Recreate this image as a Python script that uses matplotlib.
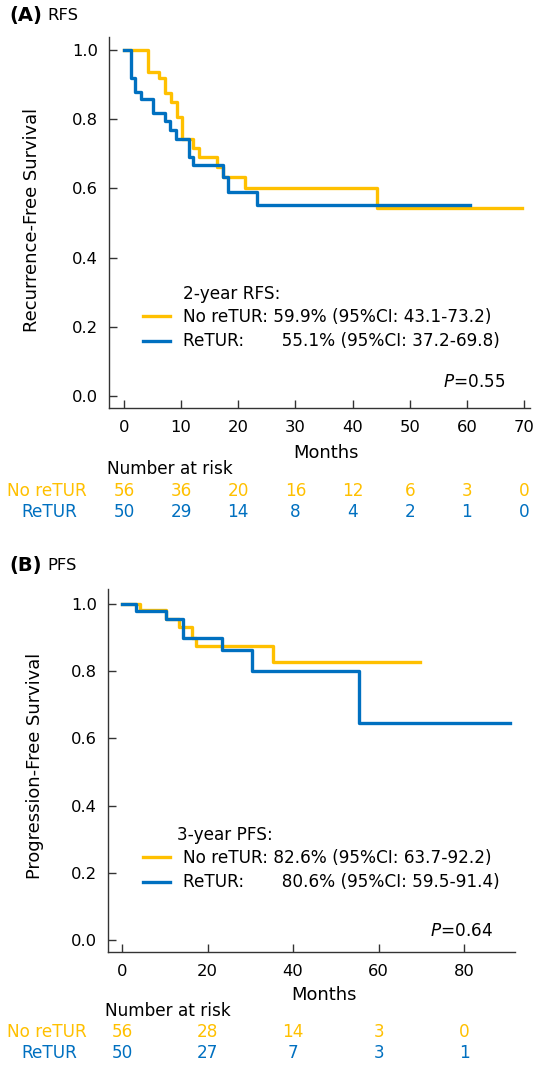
import matplotlib
matplotlib.use("Agg")
import matplotlib.pyplot as plt
from matplotlib.transforms import blended_transform_factory

# ---- data ----
# (A) RFS, Kaplan-Meier steps
rfs_no_t = [0, 4.2, 6.2, 7.2, 8.2, 9.2, 10.1, 12.1, 13.2, 16.2, 17.3, 21.2, 44.2, 69.6]
rfs_no_s = [1.0, 0.937, 0.92, 0.875, 0.85, 0.807, 0.742, 0.716, 0.692, 0.663, 0.634, 0.60, 0.542, 0.542]
rfs_re_t = [0, 1.2, 2.0, 2.9, 5.0, 7.1, 8.1, 9.1, 11.3, 12.0, 17.3, 18.2, 23.2, 60.6]
rfs_re_s = [1.0, 0.92, 0.878, 0.857, 0.817, 0.796, 0.769, 0.742, 0.692, 0.668, 0.634, 0.59, 0.552, 0.552]

# (B) PFS
pfs_no_t = [0, 4.2, 10.4, 13.4, 16.3, 17.3, 35.4, 69.8]
pfs_no_s = [1.0, 0.983, 0.955, 0.932, 0.90, 0.875, 0.826, 0.826]
pfs_re_t = [0, 3.2, 10.4, 14.3, 23.5, 30.4, 55.4, 90.8]
pfs_re_s = [1.0, 0.98, 0.955, 0.90, 0.862, 0.80, 0.645, 0.645]

# numbers at risk
rfs_ticks = [0, 10, 20, 30, 40, 50, 60, 70]
rfs_risk_no = [56, 36, 20, 16, 12, 6, 3, 0]
rfs_risk_re = [50, 29, 14, 8, 4, 2, 1, 0]
pfs_ticks = [0, 20, 40, 60, 80]
pfs_risk_no = [56, 28, 14, 3, 0]
pfs_risk_re = [50, 27, 7, 3, 1]

yticks = [0.0, 0.2, 0.4, 0.6, 0.8, 1.0]

YELLOW = "#FFC000"
BLUE = "#0070C0"
SPINE = "#333333"
FS_TICK = 11.8
FS = 12.2
FS_LAB = 12.9

W, H = 537, 1065


def fx(px):
    return px / W


def fy(py):
    return 1 - py / H


fig = plt.figure(figsize=(W / 100, H / 100), dpi=100)


def km_panel(rect, xlim, ylim, xticks, t_no, s_no, t_re, s_re):
    ax = fig.add_axes(rect)
    ax.step(t_no, s_no, where="post", color=YELLOW, lw=2.4, zorder=3)
    ax.step(t_re, s_re, where="post", color=BLUE, lw=2.4, zorder=4)
    ax.set_xlim(*xlim)
    ax.set_ylim(*ylim)
    ax.set_xticks(xticks)
    ax.set_yticks(yticks)
    ax.set_yticklabels(["%.1f" % v for v in yticks])
    for s in ["top", "right"]:
        ax.spines[s].set_visible(False)
    for s in ["left", "bottom"]:
        ax.spines[s].set_color(SPINE)
        ax.spines[s].set_linewidth(1.0)
    ax.tick_params(direction="in", length=5.5, width=1.0, color=SPINE,
                   labelsize=FS_TICK, pad=8)
    ax.tick_params(axis="x", pad=9)
    return ax


def risk_table(ax, ticks, no, re, y_head, y_no, y_re, x_head):
    trans = blended_transform_factory(ax.transData, fig.transFigure)
    fig.text(fx(x_head), fy(y_head), "Number at risk", ha="left", va="center", fontsize=FS)
    fig.text(fx(47), fy(y_no), "No reTUR", ha="center", va="center", fontsize=FS, color=YELLOW)
    fig.text(fx(49), fy(y_re), "ReTUR", ha="center", va="center", fontsize=FS, color=BLUE)
    for x, n in zip(ticks, no):
        ax.text(x, fy(y_no), str(n), transform=trans, ha="center", va="center",
                fontsize=FS, color=YELLOW, clip_on=False)
    for x, n in zip(ticks, re):
        ax.text(x, fy(y_re), str(n), transform=trans, ha="center", va="center",
                fontsize=FS, color=BLUE, clip_on=False)


def legend_block(ax, title, lab_no, lab_re, x_title, y_title, x_leg, y_leg):
    lines = ax.get_lines()
    fig.text(fx(x_title), fy(y_title), title, ha="left", va="center", fontsize=FS)
    ax.legend([lines[0], lines[1]], [lab_no, lab_re], loc="upper left",
              bbox_to_anchor=(fx(x_leg), fy(y_leg)), bbox_transform=fig.transFigure,
              frameon=False, fontsize=FS, handlelength=1.6, handletextpad=0.75,
              labelspacing=0.38, borderpad=0, borderaxespad=0)


# ---- (A) RFS ----
axA = km_panel([fx(109), fy(408), (530 - 109) / W, (408 - 37) / H],
               (-2.625, 71.05), (-0.0347, 1.0376), rfs_ticks,
               rfs_no_t, rfs_no_s, rfs_re_t, rfs_re_s)
fig.text(fx(326), fy(453), "Months", ha="center", va="center", fontsize=FS_LAB)
fig.text(fx(32), fy(220), "Recurrence-Free Survival", rotation=90,
         ha="center", va="center", fontsize=FS_LAB)
fig.text(fx(9), fy(16), "(A)", ha="left", va="center", fontsize=14, fontweight="bold")
fig.text(fx(47), fy(16), "RFS", ha="left", va="center", fontsize=11.8)
legend_block(axA, "2-year RFS:", "No reTUR: 59.9% (95%CI: 43.1-73.2)",
             "ReTUR:       55.1% (95%CI: 37.2-69.8)", 183, 294, 143, 308)
fig.text(fx(505), fy(382), "$\\it{P}$=0.55", ha="right", va="center", fontsize=FS)
risk_table(axA, rfs_ticks, rfs_risk_no, rfs_risk_re, 469, 491, 512, 107)

# ---- (B) PFS ----
axB = km_panel([fx(108), fy(952), (515 - 108) / W, (952 - 589) / H],
               (-3.27, 91.9), (-0.0357, 1.0446), pfs_ticks,
               pfs_no_t, pfs_no_s, pfs_re_t, pfs_re_s)
fig.text(fx(324), fy(995), "Months", ha="center", va="center", fontsize=FS_LAB)
fig.text(fx(35), fy(766), "Progression-Free Survival", rotation=90,
         ha="center", va="center", fontsize=FS_LAB)
fig.text(fx(9), fy(566), "(B)", ha="left", va="center", fontsize=14, fontweight="bold")
fig.text(fx(47), fy(566), "PFS", ha="left", va="center", fontsize=11.8)
legend_block(axB, "3-year PFS:", "No reTUR: 82.6% (95%CI: 63.7-92.2)",
             "ReTUR:       80.6% (95%CI: 59.5-91.4)", 177, 835, 143, 849)
fig.text(fx(493), fy(931), "$\\it{P}$=0.64", ha="right", va="center", fontsize=FS)
risk_table(axB, pfs_ticks, pfs_risk_no, pfs_risk_re, 1011, 1032, 1053, 105)

fig.savefig("out.png", dpi=100)
